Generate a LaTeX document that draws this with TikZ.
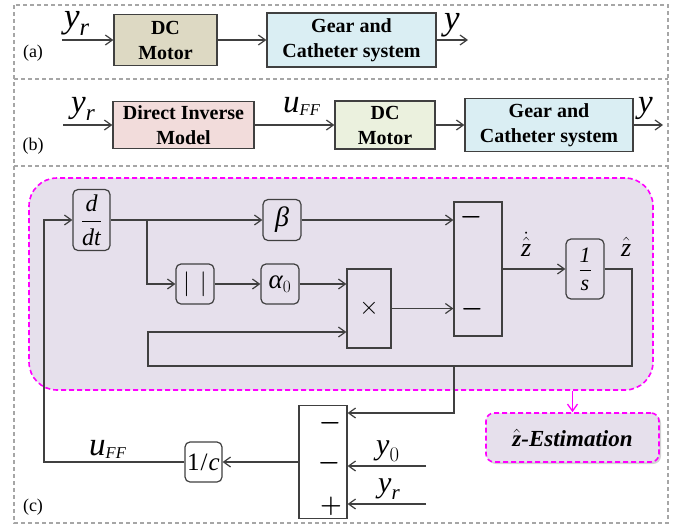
\documentclass[tikz,border=0pt]{standalone}
\usepackage{amsmath}
\usepackage{fontspec}
\setmainfont{Liberation Serif}
\usetikzlibrary{arrows.meta,shadows,calc}
\definecolor{lineC}{HTML}{404040}
\definecolor{panelC}{HTML}{A6A6A6}
\definecolor{magC}{HTML}{FF00FF}
\definecolor{lavC}{HTML}{E6E0EC}
\definecolor{tanC}{HTML}{DDD9C3}
\definecolor{blueC}{HTML}{DAEEF3}
\definecolor{pinkC}{HTML}{F2DCDB}
\definecolor{greenC}{HTML}{EBF1DE}
\tikzset{
  panel/.style={draw=panelC,line width=1.1pt,dash pattern=on 4pt off 3pt},
  bigbox/.style={draw=lineC,line width=1.3pt,inner sep=0pt,align=center,font=\fontsize{20}{25}\selectfont\bfseries},
  rbox/.style={draw=lineC,line width=1.2pt,rounded corners=5pt,inner sep=0pt,fill=lavC,font=\fontsize{24}{24}\selectfont},
  sbox/.style={draw=lineC,line width=1.2pt,inner sep=0pt,fill=lavC},
  conn/.style={draw=lineC,line width=1.2pt,-{Straight Barb[length=7pt,width=10pt]}},
  magarr/.style={draw=magC,line width=1.3pt,-{Straight Barb[length=7pt,width=10pt]}},
  region/.style={draw=magC,line width=1.6pt,dash pattern=on 5pt off 3pt,fill=lavC,rounded corners=28pt,inner sep=0pt},
  lab/.style={inner sep=0pt,anchor=base west},
  plab/.style={inner sep=0pt,font=\fontsize{18}{18}\selectfont},
  sign/.style={inner sep=0pt,font=\fontsize{23}{23}\selectfont\boldmath},
}
\begin{document}
\begin{tikzpicture}[x=1pt,y=-1pt]
\useasboundingbox (0,0) rectangle (679,525);
% panels
\draw[panel] (14,5) rectangle (668,523);
\draw[panel] (14,79) -- (668,79);
\draw[panel] (14,166) -- (668,166);

% ---------- (a)
\node[bigbox,fill=tanC,minimum width=103pt,minimum height=51pt] (dca) at (165.5,40) {DC\\Motor};
\node[bigbox,fill=blueC,minimum width=169pt,minimum height=54pt] (geara) at (351.5,40) {Gear and\\Catheter system};
\coordinate (ina) at (62,40);
\coordinate (outa) at (468,40);
\draw[conn] (ina) -- (dca.west);
\draw[conn] (dca.east) -- (geara.west);
\draw[conn] (geara.east) -- (outa);
\node[lab,font=\fontsize{35}{35}\selectfont] (yra) at (64,27) {$\textit{y}_{\textit{r}}$};
\node[lab,font=\fontsize{35}{35}\selectfont] (ya) at (444,29) {\textit{y}};
\node[plab] (la) at (33,53) {(a)};

% ---------- (b)
\node[bigbox,fill=pinkC,minimum width=141pt,minimum height=47pt] (dim) at (183.5,125) {Direct Inverse\\Model};
\node[bigbox,fill=greenC,minimum width=100pt,minimum height=48pt] (dcb) at (385,125) {DC\\Motor};
\node[bigbox,fill=blueC,minimum width=168pt,minimum height=53pt] (gearb) at (549,125) {Gear and\\Catheter system};
\coordinate (inb) at (63,125);
\coordinate (outb) at (663,125);
\draw[conn] (inb) -- (dim.west);
\draw[conn] (dim.east) -- (dcb.west);
\draw[conn] (dcb.east) -- (gearb.west);
\draw[conn] (gearb.east) -- (outb);
\node[lab,font=\fontsize{33}{33}\selectfont] (yrb) at (71,112) {$\textit{y}_{\textit{r}}$};
\node[lab,font=\fontsize{33}{33}\selectfont] (uffb) at (283,112) {$\textit{u}_{\scriptscriptstyle\textit{FF}}$};
\node[lab,font=\fontsize{33}{33}\selectfont] (yb) at (638,112) {\textit{y}};
\node[plab] (lb) at (33,146) {(b)};

% ---------- (c)
\node[region,minimum width=624pt,minimum height=212pt] (reg) at (341,284) {};
\node[rbox,minimum width=37pt,minimum height=61pt] (ddt) at (91.5,220) {$\dfrac{\textit{d}}{\textit{dt}}$};
\node[rbox,minimum width=38pt,minimum height=41pt,font=\fontsize{28}{28}\selectfont] (beta) at (282,220) {\textit{β}};
\node[rbox,minimum width=38pt,minimum height=40pt,font=\fontsize{29}{29}\selectfont] (abs) at (195,284) {$|\hspace{10pt}|$};
\node[rbox,minimum width=38pt,minimum height=40pt,font=\fontsize{27}{27}\selectfont] (alpha) at (280,284) {$\textit{α}_{0}$};
\node[sbox,minimum width=44pt,minimum height=79pt,font=\fontsize{24}{24}\selectfont] (times) at (369,308.5) {$\times$};
\node[sbox,minimum width=48pt,minimum height=134pt] (sum1) at (478,269) {};
\node[rbox,minimum width=38pt,minimum height=60pt,font=\fontsize{22}{22}\selectfont] (ones) at (585,269) {$\dfrac{\textit{1}}{\textit{s}}$};
\node[sign] (m1) at (471,217) {$-$};
\node[sign] (m2) at (472,309) {$-$};

\node[sbox,fill=white,minimum width=48pt,minimum height=113pt] (sum2) at (323,462) {};
\node[sign] (m3) at (330,423) {$-$};
\node[sign] (m4) at (329,463) {$-$};
\node[sign] (p1) at (331,506) {$+$};
\node[rbox,fill=white,minimum width=37pt,minimum height=40pt,font=\fontsize{25}{25}\selectfont] (onec) at (203.5,462) {1\hspace{1pt}/\hspace{1pt}\textit{c}};

\node[draw=magC,line width=1.6pt,dash pattern=on 5pt off 3pt,fill=lavC,rounded corners=8pt,
      minimum width=173pt,minimum height=49pt,inner sep=0pt,
      drop shadow={shadow xshift=2pt,shadow yshift=-2pt,opacity=0.35,fill=gray},
      font=\fontsize{23}{23}\selectfont\bfseries\itshape] (est) at (572.5,437.5) {$\hat{\text{z}}$-Estimation};

% connectors (c)
\coordinate (fbc) at (44,462);
\draw[conn] (onec.west) -- (fbc) |- (ddt.west);
\draw[conn] (ddt.east) -- (beta.west);
\coordinate (br1) at (147,220);
\draw[conn] (br1) |- (abs.west);
\draw[conn] (abs.east) -- (alpha.west);
\draw[conn] (alpha.east) -- (alpha.east -| times.west);
\draw[conn] (beta.east) -- (beta.east -| sum1.west);
\draw[conn] (times.east) -- (times.east -| sum1.west);
\draw[conn] (sum1.east) -- (ones.west);
\coordinate (zr) at (632,366);
\coordinate (xin) at (148,332);
\draw[conn] (ones.east) -| (zr) -- (xin |- zr) -- (xin) -- (xin -| times.west);
\coordinate (br2) at (454,366);
\coordinate (y413) at (0,413);
\draw[conn] (br2) |- (sum2.east |- y413);
\coordinate (y0in) at (426,466);
\coordinate (yrin) at (426,504);
\draw[conn] (y0in) -- (y0in -| sum2.east);
\draw[conn] (yrin) -- (yrin -| sum2.east);
\draw[conn] (sum2.west) -- (onec.east);
\draw[magarr] (reg.south -| est.north) -- (est.north);

% labels (c)
\node[lab,font=\fontsize{26}{26}\selectfont] (zdot) at (521,256) {$\dot{\hat{\textit{z}}}$};
\node[lab,font=\fontsize{26}{26}\selectfont] (zhat) at (621,256) {$\hat{\textit{z}}$};
\node[lab,font=\fontsize{33}{33}\selectfont] (uffc) at (89,455) {$\textit{u}_{\scriptscriptstyle\textit{FF}}$};
\node[lab,font=\fontsize{30}{30}\selectfont] (y0c) at (376,454) {$\textit{y}_{0}$};
\node[lab,font=\fontsize{30}{30}\selectfont] (yrc) at (378,492) {$\textit{y}_{\textit{r}}$};
\node[plab] (lc) at (33,507) {(c)};
\end{tikzpicture}
\end{document}
